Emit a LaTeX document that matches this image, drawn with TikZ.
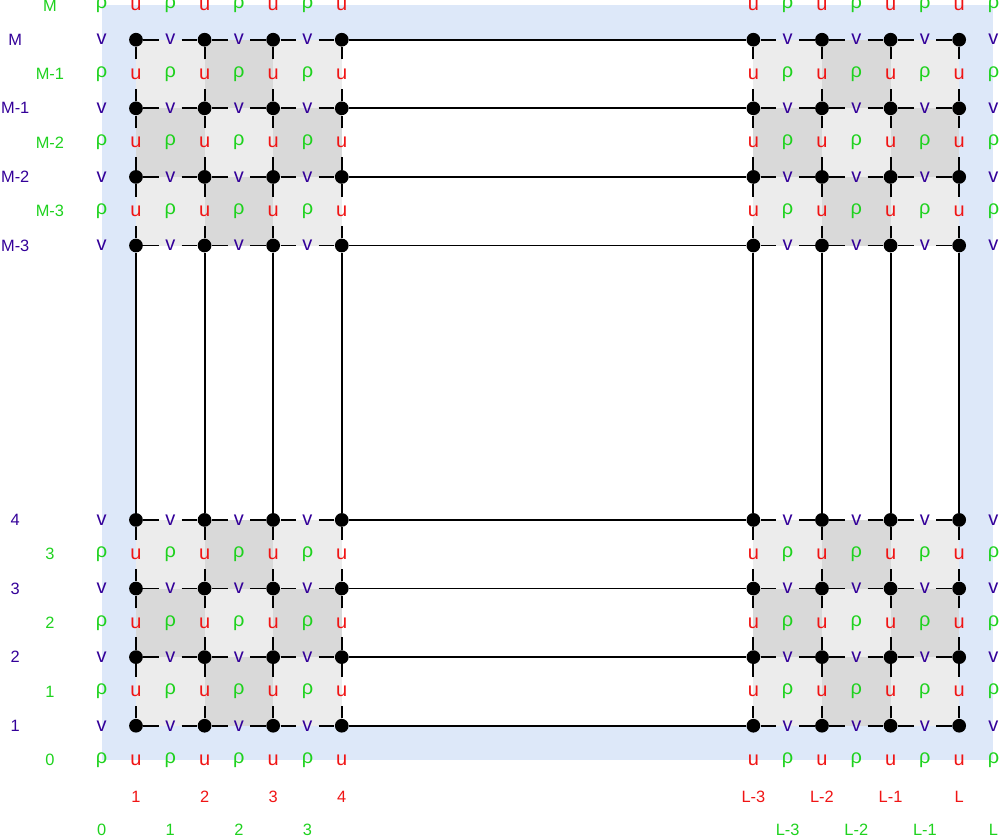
\documentclass[tikz,border=0pt]{standalone}
\usepackage{fontspec}
\setmainfont{Liberation Sans}
\definecolor{ured}{RGB}{240,20,20}
\definecolor{rgreen}{RGB}{30,210,30}
\definecolor{vblue}{RGB}{51,0,153}
\definecolor{bgblue}{RGB}{221,232,249}
\definecolor{cellA}{RGB}{236,236,236}
\definecolor{cellB}{RGB}{217,217,217}
\begin{document}
\begin{tikzpicture}[
  x=1cm,y=1cm,
  every node/.style={font=\fontsize{6.8}{8}\selectfont},
  gridpt/.style={circle, fill=black, minimum size=0.2cm, inner sep=0pt},
  lbl/.style={font=\fontsize{8.3}{10}\selectfont, inner xsep=2.4pt, inner ysep=3.6pt},
  ulbl/.style={lbl, text=ured},
  vlbl/.style={lbl, text=vblue},
  rlbl/.style={lbl, text=rgreen},
  wire/.style={line width=0.8pt}
]
\useasboundingbox (-0.982,-0.608) rectangle (13.595,11.579);

% staggered-grid background and cells
\fill[bgblue] (0.5,0.5) rectangle (13.5,11.5);
\fill[white] (1,1) rectangle (13,11);
\foreach \bx/\by in {1/1,10/1,1/8,10/8} {
  \fill[cellA] (\bx,\by) rectangle ++(3,3);
  \foreach \i/\j in {1/0,0/1,2/1,1/2}
    \fill[cellB] ({\bx+\i},{\by+\j}) rectangle ++(1,1);
}

% grid points
\foreach \a in {1,2,3,4,10,11,12,13}
  \foreach \b in {1,2,3,4,8,9,10,11}
    \node[gridpt] (p-\a-\b) at (\a,\b) {};

% v, u and rho unknowns
\foreach \a in {0,1,2,3,10,11,12,13}
  \foreach \b in {1,2,3,4,8,9,10,11}
    \node[vlbl] (v-\a-\b) at ({\a+0.5},\b) {v};
\foreach \a in {1,2,3,4,10,11,12,13}
  \foreach \b in {0,1,2,3,8,9,10,11}
    \node[ulbl] (u-\a-\b) at (\a,{\b+0.5}) {u};
\foreach \a in {0,1,2,3,10,11,12,13}
  \foreach \b in {0,1,2,3,8,9,10,11}
    \node[rlbl] (r-\a-\b) at ({\a+0.5},{\b+0.5}) {ρ};

% grid lines
\foreach \b in {1,2,3,4,8,9,10,11}
  \draw[wire] (p-1-\b) -- (v-1-\b) -- (p-2-\b) -- (v-2-\b) -- (p-3-\b) -- (v-3-\b) -- (p-4-\b)
    -- (p-10-\b) -- (v-10-\b) -- (p-11-\b) -- (v-11-\b) -- (p-12-\b) -- (v-12-\b) -- (p-13-\b);
\foreach \a in {1,2,3,4,10,11,12,13}
  \draw[wire] (p-\a-1) -- (u-\a-1) -- (p-\a-2) -- (u-\a-2) -- (p-\a-3) -- (u-\a-3) -- (p-\a-4)
    -- (p-\a-8) -- (u-\a-8) -- (p-\a-9) -- (u-\a-9) -- (p-\a-10) -- (u-\a-10) -- (p-\a-11);

% row indices
\node[text=vblue] (jv-11) at (-0.76,11) {M};
\node[text=vblue] (jv-10) at (-0.76,10) {M-1};
\node[text=vblue] (jv-9)  at (-0.76,9)  {M-2};
\node[text=vblue] (jv-8)  at (-0.76,8)  {M-3};
\node[text=vblue] (jv-4)  at (-0.76,4)  {4};
\node[text=vblue] (jv-3)  at (-0.76,3)  {3};
\node[text=vblue] (jv-2)  at (-0.76,2)  {2};
\node[text=vblue] (jv-1)  at (-0.76,1)  {1};

\node[text=rgreen] (jr-11) at (-0.254,11.5) {M};
\node[text=rgreen] (jr-10) at (-0.254,10.5) {M-1};
\node[text=rgreen] (jr-9)  at (-0.254,9.5)  {M-2};
\node[text=rgreen] (jr-8)  at (-0.254,8.5)  {M-3};
\node[text=rgreen] (jr-3)  at (-0.254,3.5)  {3};
\node[text=rgreen] (jr-2)  at (-0.254,2.5)  {2};
\node[text=rgreen] (jr-1)  at (-0.254,1.5)  {1};
\node[text=rgreen] (jr-0)  at (-0.254,0.5)  {0};

% column indices
\node[text=ured] (iu-1)  at (1,-0.03)  {1};
\node[text=ured] (iu-2)  at (2,-0.03)  {2};
\node[text=ured] (iu-3)  at (3,-0.03)  {3};
\node[text=ured] (iu-4)  at (4,-0.03)  {4};
\node[text=ured] (iu-10) at (10,-0.03) {L-3};
\node[text=ured] (iu-11) at (11,-0.03) {L-2};
\node[text=ured] (iu-12) at (12,-0.03) {L-1};
\node[text=ured] (iu-13) at (13,-0.03) {L};

\node[text=rgreen] (ir-0)  at (0.5,-0.52)  {0};
\node[text=rgreen] (ir-1)  at (1.5,-0.52)  {1};
\node[text=rgreen] (ir-2)  at (2.5,-0.52)  {2};
\node[text=rgreen] (ir-3)  at (3.5,-0.52)  {3};
\node[text=rgreen] (ir-10) at (10.5,-0.52) {L-3};
\node[text=rgreen] (ir-11) at (11.5,-0.52) {L-2};
\node[text=rgreen] (ir-12) at (12.5,-0.52) {L-1};
\node[text=rgreen] (ir-13) at (13.5,-0.52) {L};
\end{tikzpicture}
\end{document}
